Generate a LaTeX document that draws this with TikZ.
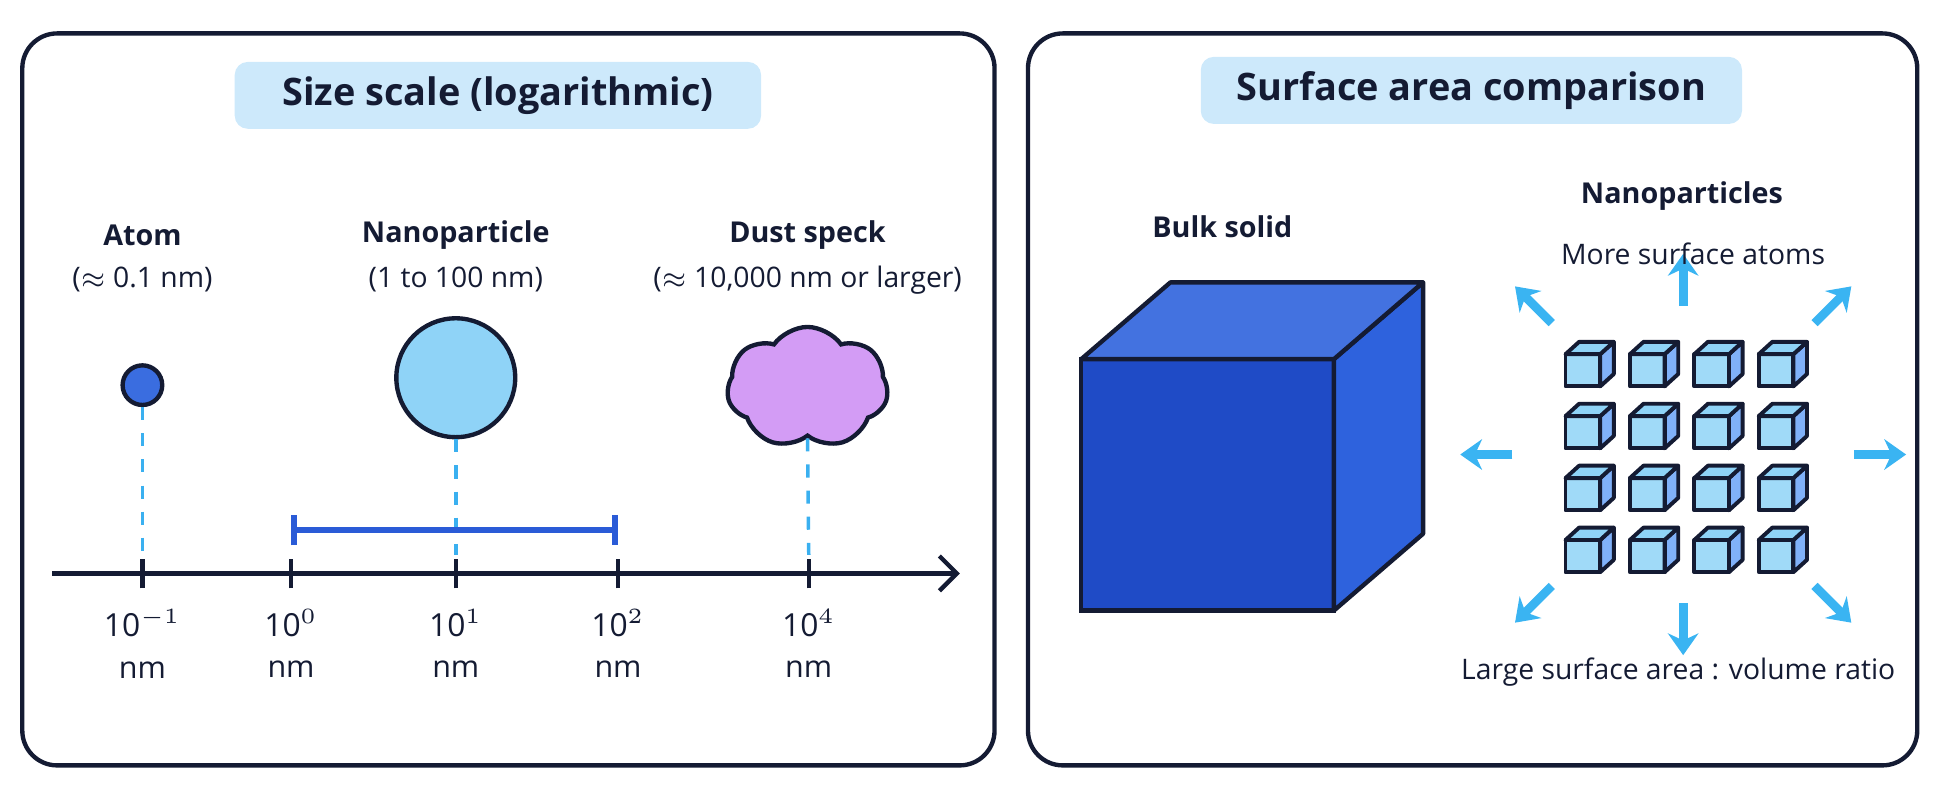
\documentclass[tikz,border=0pt]{standalone}
\usepackage{fontspec}
\setmainfont{Open Sans}
\usetikzlibrary{positioning,shapes.symbols,arrows.meta,calc}
\definecolor{navy}{HTML}{141B33}
\definecolor{titlefill}{HTML}{CDE9FB}
\definecolor{atomblue}{HTML}{3A6DE0}
\definecolor{nanoblue}{HTML}{8FD3F7}
\definecolor{dustpurple}{HTML}{D39CF5}
\definecolor{dashblue}{HTML}{3AB0F0}
\definecolor{rangeblue}{HTML}{2A5BD7}
\definecolor{bulkfront}{HTML}{1F4BC6}
\definecolor{bulkside}{HTML}{2E62DD}
\definecolor{arrowblue}{HTML}{3AB4F2}
\tikzset{
  panel/.style={draw=navy, line width=1pt, rounded corners=8pt},
  title/.style={fill=titlefill, rounded corners=3pt, minimum height=0.45cm, font=\fontsize{8.7}{10}\selectfont\bfseries, text=navy},
  lbl/.style={font=\fontsize{6.6}{8}\selectfont\bfseries, text=navy},
  sub/.style={font=\fontsize{6.5}{8}\selectfont, text=navy},
  guide/.style={dashblue, dashed, line width=0.8pt},
  tick/.style={navy, line width=1pt},
  spread/.style={arrowblue, line width=2pt, -{Stealth[length=5pt,width=7pt]}},
}
\newcommand{\smallcube}[2]{% lower-left corner of front face
  \fill[nanoblue!85!white] (#1,#2) rectangle ++(0.28,0.26);
  \filldraw[fill=nanoblue!80!blue!90!white, draw=navy, line width=0.9pt, line join=round]
    (#1+0.28,#2) -- ++(0.11,0.1) -- ++(0,0.26) -- ++(-0.11,-0.1) -- cycle;
  \filldraw[fill=nanoblue, draw=navy, line width=0.9pt, line join=round]
    (#1,#2+0.26) -- ++(0.11,0.1) -- ++(0.28,0) -- ++(-0.11,-0.1) -- cycle;
  \draw[navy, line width=0.9pt, line join=round] (#1,#2) rectangle ++(0.28,0.26);
}
\begin{document}
\begin{tikzpicture}
  \useasboundingbox (0,0) rectangle (15.68,6.53);
  % panels
  \draw[panel] (0.18,0.35) rectangle (8.03,6.26);
  \draw[panel] (8.30,0.35) rectangle (15.48,6.26);
  \node[title, minimum width=4.25cm] (lefttitle) at (4.02,5.76) {Size scale (logarithmic)};
  \node[title, minimum width=4.37cm] (righttitle) at (11.88,5.80) {Surface area comparison};

  % axis
  \coordinate (axstart) at (0.42,1.90);
  \coordinate (axend) at (7.75,1.90);
  \draw[navy, line width=1pt, -{Straight Barb[length=4pt]}] (axstart) -- (axend);
  \foreach \x/\e/\n in {1.15/{-1}/a, 2.35/0/b, 3.68/1/c, 4.99/2/d, 6.53/4/e}{
    \draw[tick] (\x,1.78) -- (\x,2.02);
    \node[sub, font=\fontsize{7.3}{9}\selectfont] (exp\n) at (\x,1.50) {10$^{\e}$};
    \node[sub, font=\fontsize{7}{9}\selectfont, below=-0.05cm of exp\n] (nm\n) {nm};
  }

  % objects
  \node[circle, draw=navy, line width=1pt, fill=atomblue, minimum size=0.32cm, inner sep=0pt] (atom) at (1.15,3.42) {};
  \node[circle, draw=navy, line width=1pt, fill=nanoblue, minimum size=0.96cm, inner sep=0pt] (nano) at (3.68,3.48) {};
  \node[cloud, cloud puffs=7, cloud puff arc=110, aspect=1.3, draw=navy, line width=1pt, fill=dustpurple, minimum width=1.3cm, minimum height=0.98cm, inner sep=0pt] (dust) at (6.52,3.40) {};
  \coordinate (atomfoot) at (1.15,2.05);
  \coordinate (nanofoot) at (3.68,2.05);
  \coordinate (dustfoot) at (6.53,2.05);
  \draw[guide] (atom.south) -- (atomfoot);
  \draw[guide] (nano.south) -- (nanofoot);
  \draw[guide] (dust.south) -- (dustfoot);

  % range bar
  \coordinate (rangeL) at (2.35,2.25);
  \coordinate (rangeR) at (4.99,2.25);
  \draw[rangeblue, line width=1.3pt, {Bar[width=7pt]}-{Bar[width=7pt]}] (rangeL) -- (rangeR);

  % labels
  \node[lbl] (atomlbl) at (1.15,4.63) {Atom};
  \node[sub] (atomsub) at (1.15,4.27) {($\approx$ 0.1 nm)};
  \node[lbl] (nanolbl) at (3.68,4.63) {Nanoparticle};
  \node[sub] (nanosub) at (3.68,4.27) {(1 to 100 nm)};
  \node[lbl] (dustlbl) at (6.52,4.63) {Dust speck};
  \node[sub] (dustsub) at (6.52,4.27) {($\approx$ 10,000 nm or larger)};

  % bulk cube
  \fill[bulkfront] (8.73,1.60) rectangle (10.77,3.63);
  \filldraw[fill=bulkside, draw=navy, line width=1pt, line join=round]
    (10.77,1.60) -- (11.49,2.22) -- (11.49,4.25) -- (10.77,3.63) -- cycle;
  \filldraw[fill=bulkside!90!white, draw=navy, line width=1pt, line join=round]
    (8.73,3.63) -- (9.45,4.25) -- (11.49,4.25) -- (10.77,3.63) -- cycle;
  \draw[navy, line width=1pt] (8.73,1.60) rectangle (10.77,3.63);
  \node[lbl] (bulklbl) at (9.87,4.70) {Bulk solid};

  % nanoparticle grid
  \foreach \i in {0,...,3}{
    \foreach \j in {0,...,3}{
      \smallcube{12.64+0.52*\i}{3.41-0.50*\j}
    }
  }
  \coordinate (gridc) at (13.59,2.86);
  \foreach \a/\r in {90/1.2, 270/1.2, 0/1.38, 180/1.38, 45/1.5, 135/1.5, 225/1.5, 315/1.5}{
    \draw[spread] ($(gridc)+(\a:\r)$) -- ($(gridc)+(\a:\r+0.42)$);
  }
  \node[lbl] (nanoslbl) at (13.58,4.95) {Nanoparticles};
  \node[sub] (moretxt) at (13.67,4.48) {More surface atoms};
  \node[sub] (ratiotxt) at (13.55,1.10) {Large surface area : volume ratio};
\end{tikzpicture}
\end{document}
